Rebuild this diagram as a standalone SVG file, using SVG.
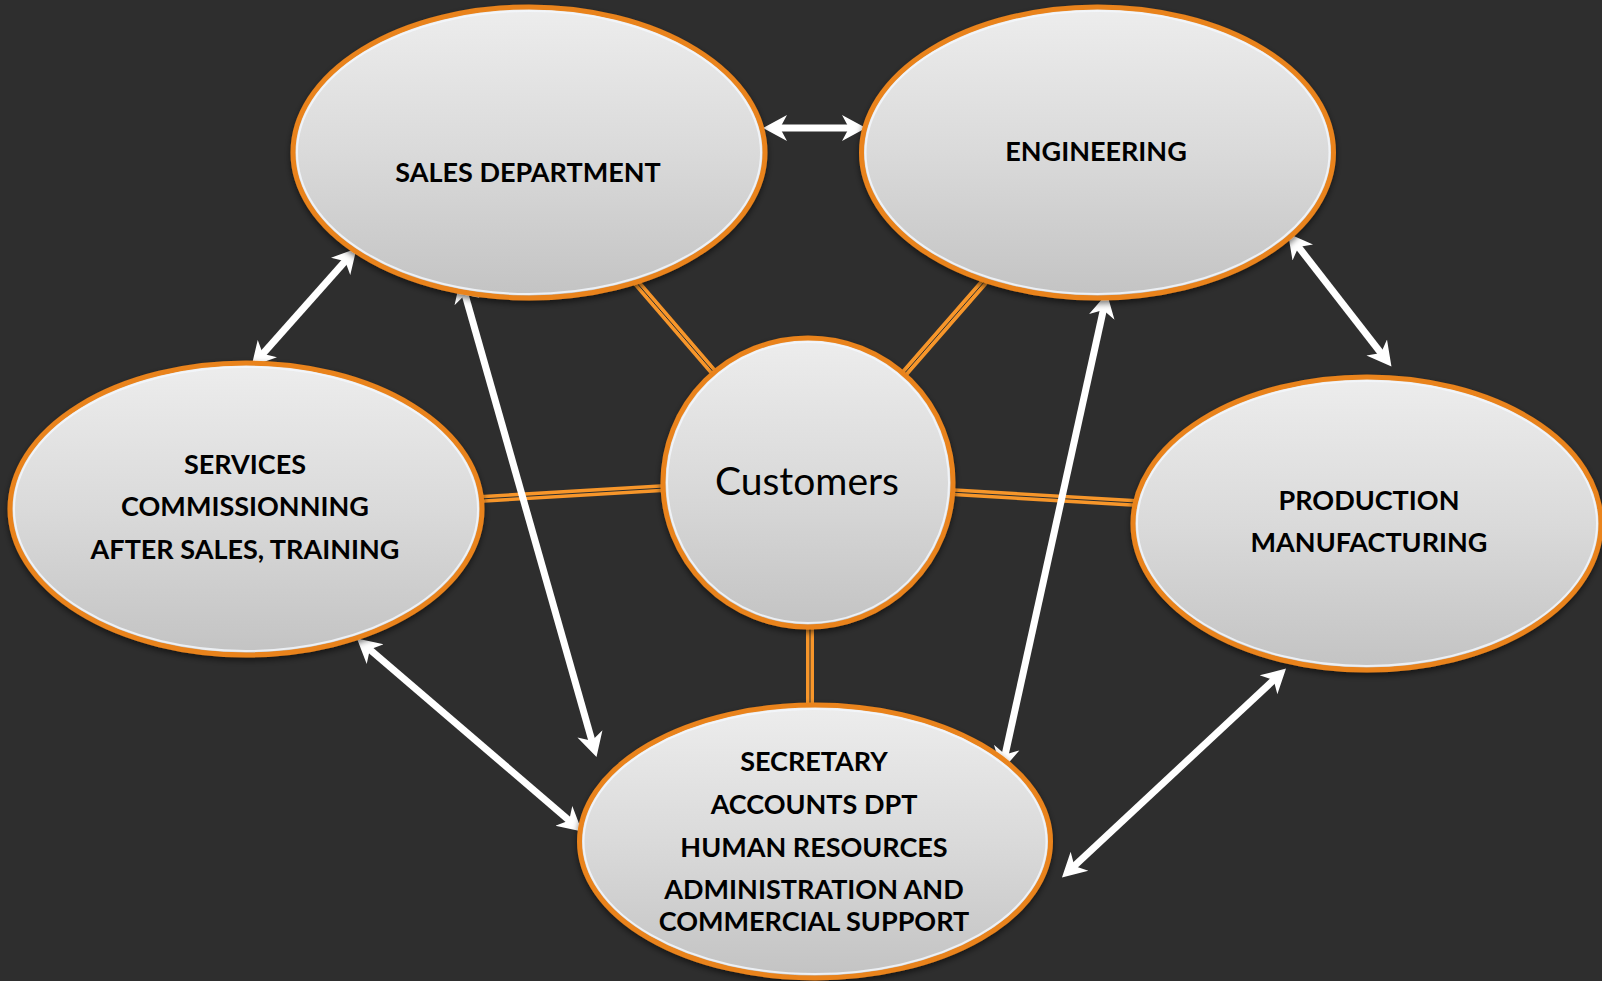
<svg xmlns="http://www.w3.org/2000/svg" width="1602" height="981" viewBox="0 0 1602 981">
<defs>
<linearGradient id="fillg" x1="0" y1="0" x2="0" y2="1">
<stop offset="0" stop-color="#ededed"/>
<stop offset="0.5" stop-color="#dadada"/>
<stop offset="1" stop-color="#c3c3c3"/>
</linearGradient>
<filter id="sh" x="-10%" y="-10%" width="120%" height="125%">
<feDropShadow dx="0" dy="3" stdDeviation="3" flood-color="#000" flood-opacity="0.55"/>
</filter>
<marker id="ah" markerUnits="userSpaceOnUse" markerWidth="26" markerHeight="28" viewBox="0 -14 26 28" refX="13" refY="0" orient="auto-start-reverse">
<path d="M24,0 L0,-13 L7,0 L0,13 Z" fill="#ffffff"/>
</marker>
<style>
.bg{fill:#2e2e2e}
.ell{fill:url(#fillg);stroke:#e9831c;stroke-width:5;filter:url(#sh)}
.rim{fill:none;stroke:#f3f7fb;stroke-width:2;opacity:0.85}
.ol{stroke:#f7962a;stroke-width:8;fill:none}
.oi{stroke:#2e2e2e;stroke-width:1;fill:none}
.ar{stroke:#ffffff;stroke-width:7;fill:none;marker-start:url(#ah);marker-end:url(#ah)}
.lb{font-family:Lato,"Open Sans","Liberation Sans",sans-serif;font-weight:bold;font-size:27px;fill:#000;text-anchor:middle}
.cu{font-family:Lato,"Open Sans","Liberation Sans",sans-serif;font-size:39px;fill:#000;text-anchor:middle}
</style>
</defs>
<rect class="bg" x="0" y="0" width="1602" height="981"/>

<g id="connectors">
<line class="ol" x1="636" y1="282" x2="716" y2="375"/>
<line class="oi" x1="636" y1="282" x2="716" y2="375"/>
<line class="ol" x1="985" y1="281" x2="903" y2="375"/>
<line class="oi" x1="985" y1="281" x2="903" y2="375"/>
<line class="ol" x1="480" y1="499" x2="665" y2="488"/>
<line class="oi" x1="480" y1="499" x2="665" y2="488"/>
<line class="ol" x1="950" y1="492" x2="1136" y2="503"/>
<line class="oi" x1="950" y1="492" x2="1136" y2="503"/>
<line class="ol" x1="810" y1="624" x2="810" y2="708"/>
<line class="oi" x1="810" y1="624" x2="810" y2="708"/>

<line class="ar" x1="774" y1="128" x2="855" y2="128"/>
<line class="ar" x1="349.2" y1="256.7" x2="258.8" y2="358.3"/>
<line class="ar" x1="463.5" y1="289.1" x2="593.5" y2="746.4"/>
<line class="ar" x1="1104.6" y1="304.2" x2="1003.9" y2="760.3"/>
<line class="ar" x1="1294.8" y1="242.2" x2="1384.7" y2="357.8"/>
<line class="ar" x1="365.3" y1="645.7" x2="573.7" y2="824.3"/>
<line class="ar" x1="1278" y1="676" x2="1070" y2="870"/>
</g>

<g id="sales">
<ellipse class="ell" cx="529" cy="152.5" rx="236" ry="145.5"/>
<ellipse class="rim" cx="529" cy="152.5" rx="232" ry="141.5"/>
<text class="lb" x="528" y="182">SALES DEPARTMENT</text>
</g>

<g id="engineering">
<ellipse class="ell" cx="1097.5" cy="152.5" rx="236" ry="145.5"/>
<ellipse class="rim" cx="1097.5" cy="152.5" rx="232" ry="141.5"/>
<text class="lb" x="1096" y="161">ENGINEERING</text>
</g>

<g id="services">
<ellipse class="ell" cx="246" cy="509" rx="236" ry="146"/>
<ellipse class="rim" cx="246" cy="509" rx="232" ry="142"/>
<text class="lb" x="245" y="474">SERVICES</text>
<text class="lb" x="245" y="516">COMMISSIONNING</text>
<text class="lb" x="245" y="559">AFTER SALES, TRAINING</text>
</g>

<g id="production">
<ellipse class="ell" cx="1367" cy="523.5" rx="234" ry="146.5"/>
<ellipse class="rim" cx="1367" cy="523.5" rx="230" ry="142.5"/>
<text class="lb" x="1369" y="510">PRODUCTION</text>
<text class="lb" x="1369" y="552">MANUFACTURING</text>
</g>

<g id="secretary">
<ellipse class="ell" cx="815" cy="841.5" rx="235.5" ry="136.5"/>
<ellipse class="rim" cx="815" cy="841.5" rx="231.5" ry="132.5"/>
<text class="lb" x="814" y="771">SECRETARY</text>
<text class="lb" x="814" y="814">ACCOUNTS DPT</text>
<text class="lb" x="814" y="857">HUMAN RESOURCES</text>
<text class="lb" x="814" y="899">ADMINISTRATION AND</text>
<text class="lb" x="814" y="931">COMMERCIAL SUPPORT</text>
</g>

<g id="customers">
<ellipse class="ell" cx="808" cy="482.5" rx="145" ry="144.5"/>
<ellipse class="rim" cx="808" cy="482.5" rx="141" ry="140.5"/>
<text class="cu" x="807" y="495">Customers</text>
</g>
</svg>
